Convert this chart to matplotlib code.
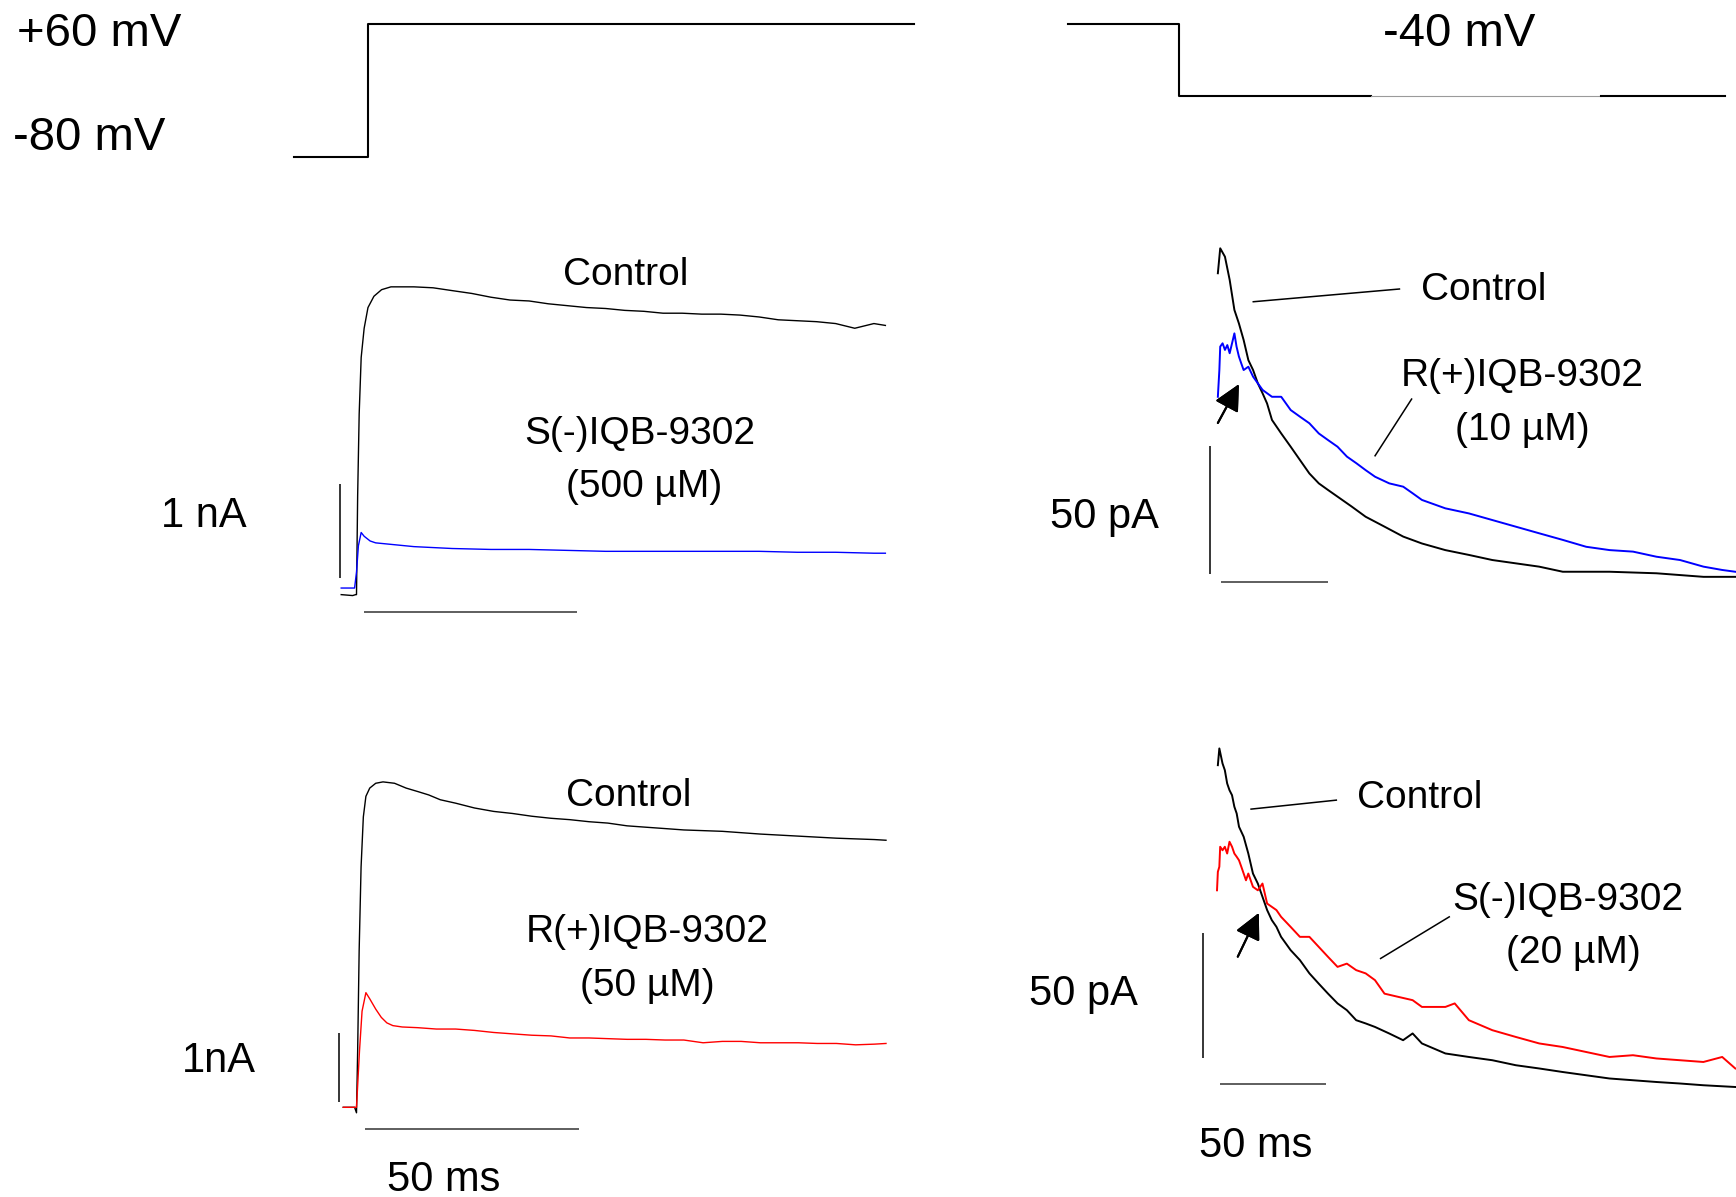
import matplotlib.pyplot as plt
from matplotlib.lines import Line2D

plt.rcParams['font.family'] = ['Liberation Sans', 'DejaVu Sans']

# ---- voltage protocols (ms, mV) ----
prot_left_t = [-17.4, 0.0, 0.0, 128.6]
prot_left_v = [-80, -80, 60, 60]
prot_right_t = [-51.5, 0.0, 0.0, 89.2]
prot_right_v = [60, 60, -40, -40]
prot_right_gap_t = [89.2, 196.4]
prot_right_end_t = [196.4, 254.1]

# ---- panel A: 1 nA, S(-)IQB-9302 500 uM ----
a_ctrl_t = [-3.6, -0.9, -0.2, 0.0, 0.27, 0.63, 1.1, 1.8, 2.7, 4.1, 5.9, 8.1, 13.5, 18.0,
            22.5, 27.1, 31.6, 36.1, 40.6, 45.1, 49.6, 54.1, 58.6, 63.1, 67.6, 72.1, 76.6,
            81.2, 85.7, 90.2, 94.7, 99.2, 103.7, 108.2, 112.7, 117.2, 121.7, 124.4]
a_ctrl_i = [0.0, -0.01, 0.0, 0.0, 1.05, 1.92, 2.52, 2.83, 3.05, 3.17, 3.24, 3.27, 3.27, 3.26,
            3.23, 3.20, 3.16, 3.13, 3.12, 3.09, 3.07, 3.05, 3.04, 3.02, 3.01, 2.99, 2.99,
            2.98, 2.98, 2.97, 2.95, 2.92, 2.91, 2.90, 2.88, 2.83, 2.88, 2.86]
a_drug_t = [-3.6, -0.45, 0.0, 0.45, 1.1, 1.8, 3.2, 4.5, 9.0, 13.5, 22.5, 31.6, 40.6, 49.6,
            58.6, 67.6, 76.6, 85.7, 94.7, 103.7, 112.7, 121.7, 124.4]
a_drug_i = [0.07, 0.07, 0.24, 0.52, 0.66, 0.62, 0.57, 0.55, 0.53, 0.51, 0.49, 0.48, 0.48, 0.47,
            0.46, 0.46, 0.46, 0.46, 0.46, 0.45, 0.45, 0.44, 0.44]

# ---- panel B: tail currents, 50 pA, R(+)IQB-9302 10 uM ----
b_ctrl_t = [0, 1.1, 3.3, 5.5, 7.7, 9.8, 12.0, 14.2, 16.4, 18.6, 20.8, 22.9, 25.2, 29.5, 33.9,
            38.2, 42.6, 47.0, 51.3, 55.7, 62.3, 68.8, 77.6, 86.3, 95.0, 105.9, 116.9, 127.8,
            138.7, 149.6, 160.6, 182.4, 204.2, 226.1, 240.9]
b_ctrl_i = [121.4, 131.2, 127.9, 118.8, 107.0, 101.7, 95.2, 87.3, 83.4, 78.2, 74.3, 70.3, 63.8,
            58.5, 53.3, 48.1, 42.8, 38.9, 36.3, 33.7, 29.8, 25.8, 21.9, 18.0, 15.3, 12.7, 10.8,
            8.8, 7.5, 6.2, 4.2, 4.2, 3.6, 2.2, 2.2]
b_drug_t = [0, 0.7, 1.1, 2.2, 3.3, 4.4, 5.5, 6.6, 7.7, 8.7, 9.8, 10.9, 12.0, 14.2, 16.4, 18.6,
            20.8, 22.9, 25.2, 29.5, 33.9, 38.2, 42.6, 47.0, 51.3, 55.7, 60.1, 64.5, 68.8, 73.2,
            79.8, 86.3, 90.7, 95.0, 105.9, 116.9, 127.8, 138.7, 149.6, 160.6, 171.5, 182.4,
            193.3, 204.2, 215.2, 226.1, 234.8, 240.9]
b_drug_i = [72.9, 83.4, 92.6, 93.9, 91.3, 93.2, 90.0, 93.9, 97.8, 92.6, 88.7, 86.0, 83.4, 84.7,
            80.8, 78.2, 75.6, 74.3, 72.9, 72.9, 67.7, 65.1, 62.5, 58.5, 55.9, 53.3, 49.4, 46.8,
            44.1, 41.5, 38.9, 37.6, 35.0, 32.4, 29.1, 27.1, 24.5, 21.9, 19.3, 16.7, 14.0, 12.7,
            12.1, 10.1, 8.8, 6.2, 4.9, 4.2]

# ---- panel C: 1 nA, R(+)IQB-9302 50 uM ----
c_ctrl_t = [-3.1, -0.45, 0.0, 0.27, 0.62, 1.07, 1.6, 2.2, 3.1, 4.5, 6.2, 8.9, 11.6, 14.3, 16.9,
            19.6, 23.2, 27.6, 32.1, 36.5, 41.0, 45.5, 49.9, 54.4, 58.8, 63.3, 67.7, 72.2, 76.6,
            85.6, 94.5, 103.4, 112.3, 121.2, 123.9]
c_ctrl_i = [0.0, 0.0, -0.08, 0.82, 2.28, 3.50, 4.23, 4.53, 4.65, 4.72, 4.74, 4.72, 4.65, 4.60,
            4.55, 4.48, 4.43, 4.36, 4.31, 4.28, 4.24, 4.21, 4.19, 4.16, 4.14, 4.10, 4.08, 4.06,
            4.04, 4.02, 3.98, 3.95, 3.92, 3.90, 3.89]
c_drug_t = [-3.1, 0.0, 0.7, 1.3, 2.2, 3.1, 4.5, 5.8, 7.1, 8.5, 10.7, 14.3, 18.7, 23.2, 27.6,
            32.1, 36.5, 41.0, 45.5, 49.9, 54.4, 58.8, 63.3, 67.7, 72.2, 76.6, 81.1, 85.6, 90.0,
            94.5, 98.9, 103.4, 107.8, 112.3, 116.8, 121.2, 123.9]
c_drug_i = [0.0, 0.0, 0.82, 1.40, 1.67, 1.58, 1.43, 1.31, 1.23, 1.19, 1.17, 1.16, 1.14, 1.14,
            1.12, 1.09, 1.07, 1.05, 1.04, 1.01, 1.01, 1.00, 0.99, 0.99, 0.98, 0.98, 0.94, 0.96,
            0.96, 0.94, 0.94, 0.94, 0.93, 0.93, 0.91, 0.92, 0.93]

# ---- panel D: tail currents, 50 pA, S(-)IQB-9302 20 uM ----
d_ctrl_t = [0, 0.7, 2.2, 3.3, 4.4, 5.5, 6.7, 7.8, 8.9, 10.0, 12.2, 14.4, 16.6, 18.9, 21.1, 23.3,
            25.5, 27.7, 29.9, 34.4, 38.8, 43.3, 47.7, 52.1, 56.6, 61.0, 65.4, 69.9, 74.3, 81.0,
            87.6, 92.1, 96.5, 107.6, 118.7, 129.8, 140.9, 152.0, 163.0, 174.1, 185.2, 196.3,
            207.4, 218.5, 229.6, 244.7]
d_ctrl_i = [127.6, 134.3, 128.3, 125.6, 120.3, 117.6, 115.6, 111.0, 108.3, 103.0, 99.0, 92.3,
            84.3, 80.3, 75.0, 69.7, 65.7, 63.0, 59.0, 53.7, 49.7, 44.4, 40.3, 36.3, 32.4, 29.7,
            25.7, 24.4, 23.0, 20.4, 17.7, 20.4, 16.4, 12.4, 11.0, 9.7, 7.7, 6.4, 5.0, 3.7, 2.4,
            1.7, 1.0, 0.4, -0.3, -1.0]
d_drug_t = [-0.4, 0, 0.7, 1.1, 2.2, 3.3, 4.4, 5.5, 6.7, 7.8, 8.9, 10.0, 11.1, 12.2, 13.3, 14.4,
            16.6, 18.9, 21.1, 23.3, 25.5, 27.7, 29.9, 34.4, 38.8, 43.3, 47.7, 52.1, 56.6, 61.0,
            65.4, 69.9, 74.3, 78.8, 85.4, 92.1, 96.5, 107.6, 112.0, 118.7, 129.8, 140.9, 152.0,
            163.0, 174.1, 185.2, 196.3, 207.4, 218.5, 229.6, 238.5, 244.7]
d_drug_i = [77.6, 85.0, 87.0, 95.0, 93.6, 95.0, 92.3, 97.0, 95.0, 92.3, 91.0, 89.6, 87.0, 84.3,
            81.6, 84.3, 79.0, 77.6, 80.3, 72.3, 71.0, 69.7, 67.0, 63.0, 59.0, 59.0, 55.0, 51.0,
            47.0, 48.3, 45.7, 44.4, 41.7, 36.3, 35.0, 33.7, 31.0, 31.0, 32.4, 25.7, 21.7, 19.0,
            16.4, 15.0, 13.0, 11.0, 11.7, 10.4, 9.7, 9.0, 11.0, 6.4]

# layout grid (pixels of the 1568x1081 reference)
W, H = 1568, 1081
fig = plt.figure(figsize=(17.36, 11.97), dpi=100)


def overlay(x0, y0, sx, sy):
    # transparent full-figure axes where (x0, y0) px is the data origin
    ax = fig.add_axes([0, 0, 1, 1])
    ax.set_axis_off()
    ax.patch.set_alpha(0)
    ax.set_xlim(-x0 / sx, (W - x0) / sx)
    ax.set_ylim((y0 - H) / sy, y0 / sy)
    return ax


def label(x, y, s, size=28):
    fig.text(x / W, 1 - (y + 3) / H, s, ha='center', va='center', fontsize=size)


def pointer(x1, y1, x2, y2):
    fig.add_artist(Line2D([x1 / W, x2 / W], [1 - y1 / H, 1 - y2 / H], lw=1.1, color='black'))


def arrow(x1, y1, x2, y2):
    fig.add_artist(plt.annotate('', xy=(x2 / W, 1 - y2 / H), xytext=(x1 / W, 1 - y1 / H),
                                xycoords='figure fraction', textcoords='figure fraction',
                                arrowprops=dict(arrowstyle='-|>,head_length=0.4,head_width=0.2',
                                                mutation_scale=40, lw=1.5, color='black',
                                                shrinkA=0, shrinkB=0)))


def scalebars(ax, tv, iv0, iv1, th0, th1, ih):
    ax.plot([tv, tv], [iv0, iv1], color='black', lw=1.1, solid_capstyle='butt')
    ax.plot([th0, th1], [ih, ih], color='#333333', lw=1.1, solid_capstyle='butt')


# voltage protocols
ax = overlay(332, 73.4, 3.84, 0.857)
ax.plot(prot_left_t, prot_left_v, color='black', lw=1.5)
ax = overlay(1065, 61, 1.94, 0.65)
ax.plot(prot_right_t, prot_right_v, color='black', lw=1.5)
ax.plot(prot_right_gap_t, [-40, -40], color='#9a9a9a', lw=0.8)
ax.plot(prot_right_end_t, [-40, -40], color='black', lw=1.5)
label(90, 28, '+60 mV', 34)
label(81, 122, '-80 mV', 34)
label(1318, 28, '-40 mV', 34)

# A
ax = overlay(322, 537, 3.84, 85)
ax.plot(a_ctrl_t, a_ctrl_i, color='black', lw=1.0)
ax.plot(a_drug_t, a_drug_i, color='#0000ff', lw=1.0)
scalebars(ax, -3.9, 0.18, 1.18, 1.8, 51.8, -0.18)
label(565, 245, 'Control')
label(578, 389, 'S(-)IQB-9302')
label(582, 437, '(500 µM)')
label(184, 463, '1 nA', 30)

# B
ax = overlay(1100, 526, 1.94, 2.3)
ax.plot(b_ctrl_t, b_ctrl_i, color='black', lw=1.4)
ax.plot(b_drug_t, b_drug_i, color='#0000ff', lw=1.4)
scalebars(ax, -3.6, 3.5, 53.5, 1.5, 51.5, 0)
label(1340, 259, 'Control')
label(1375, 337, 'R(+)IQB-9302')
label(1375, 385, '(10 µM)')
label(998, 464, '50 pA', 30)
pointer(1132, 272.5, 1264, 261)
pointer(1242, 411.6, 1275, 360.4)
arrow(1100, 382, 1119, 347)

# C
ax = overlay(322, 1000, 3.86, 62)
ax.plot(c_ctrl_t, c_ctrl_i, color='black', lw=1.0)
ax.plot(c_drug_t, c_drug_i, color='#ff0000', lw=1.0)
scalebars(ax, -4.1, 0.08, 1.08, 2.1, 52.1, -0.31)
label(568, 716, 'Control')
label(585, 839, 'R(+)IQB-9302')
label(585, 887, '(50 µM)')
label(198, 955, '1nA', 30)
label(401, 1063, '50 ms', 30)

# D
ax = overlay(1100, 979.4, 1.91, 2.26)
ax.plot(d_ctrl_t, d_ctrl_i, color='black', lw=1.4)
ax.plot(d_drug_t, d_drug_i, color='#ff0000', lw=1.4)
scalebars(ax, -6.8, 10.4, 60.4, 1.0, 51.0, 0)
label(1282, 718, 'Control')
label(1416, 810, 'S(-)IQB-9302')
label(1421, 858, '(20 µM)')
label(979, 895, '50 pA', 30)
label(1134, 1032, '50 ms', 30)
pointer(1130, 730.7, 1207, 722.6)
pointer(1247, 865.6, 1309, 828)
arrow(1118, 864, 1137, 824.5)

fig.savefig('out.png', dpi=100, facecolor='white')
